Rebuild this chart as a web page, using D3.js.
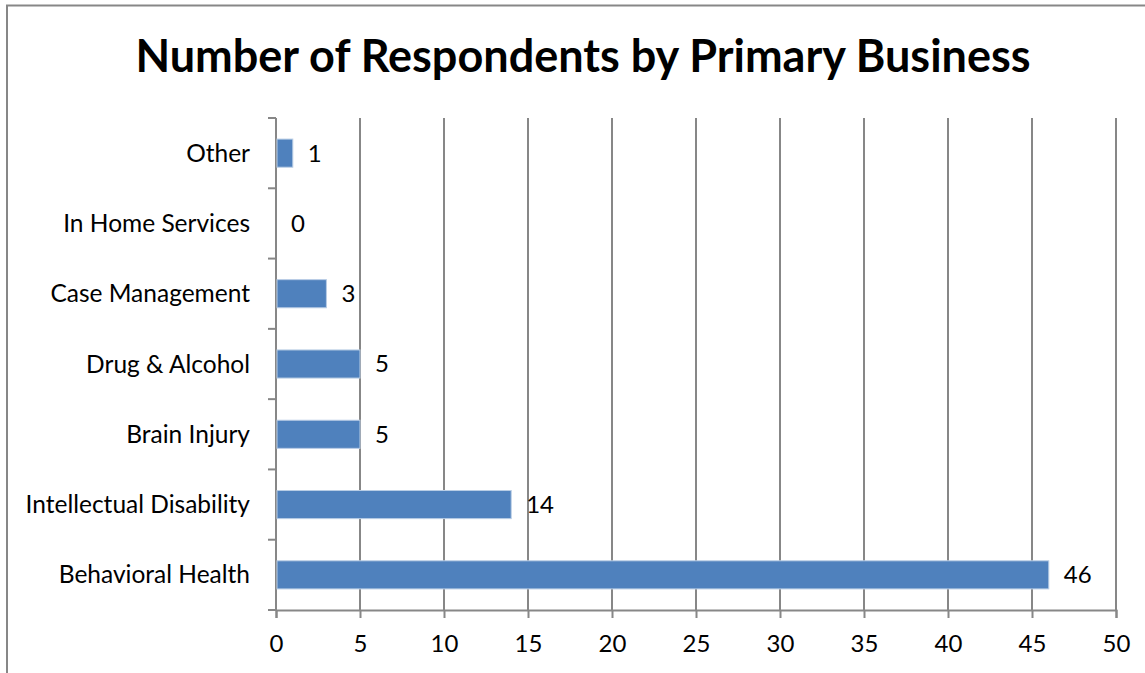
<!DOCTYPE html>
<html>
<head>
<meta charset="utf-8">
<script src="https://cdn.jsdelivr.net/npm/d3@7"></script>
<style>
  body { margin: 0; background: #fff; }
  svg { display: block; font-family: Lato, "Open Sans", sans-serif; }
</style>
</head>
<body>
<svg id="bar-chart"></svg>
<script>
// Data
const categories = ["Other", "In Home Services", "Case Management", "Drug & Alcohol", "Brain Injury", "Intellectual Disability", "Behavioral Health"];
const respondents = [1, 0, 3, 5, 5, 14, 46];
const xTicks = [0, 5, 10, 15, 20, 25, 30, 35, 40, 45, 50];

document.addEventListener('DOMContentLoaded', function () {
    const W = 1145, H = 673;
    const margin = { top: 118, right: 29, bottom: 63, left: 276 };
    const width = W - margin.left - margin.right;
    const height = H - margin.top - margin.bottom;

    const root = d3.select('#bar-chart')
        .attr("width", W)
        .attr("height", H);

    // outer chart border
    root.append("rect")
        .attr("x", 7).attr("y", 5.5)
        .attr("width", 1150).attr("height", 700)
        .attr("fill", "none")
        .attr("stroke", "#878787")
        .attr("stroke-width", 2);

    // title
    root.append("text")
        .attr("x", 583)
        .attr("y", 72)
        .attr("text-anchor", "middle")
        .attr("font-size", 45)
        .attr("font-weight", "bold")
        .attr("fill", "#000")
        .text("Number of Respondents by Primary Business");

    const svg = root.append("g")
        .attr("transform", `translate(${margin.left},${margin.top})`);

    const x = d3.scaleLinear().domain([0, 50]).range([0, width]);
    const y = d3.scaleBand().domain(categories).range([0, height]).paddingInner(0.6).paddingOuter(0.3);
    const yEdges = d3.scaleLinear().domain([0, categories.length]).range([0, height]);

    // vertical gridlines
    svg.selectAll(".grid")
        .data(xTicks.slice(1))
        .join("line")
        .attr("x1", d => x(d)).attr("x2", d => x(d))
        .attr("y1", 0).attr("y2", height)
        .attr("stroke", "#878787")
        .attr("stroke-width", 2);

    // X axis
    const xAxisGroup = svg.append("g")
        .attr("transform", `translate(0,${height})`)
        .call(d3.axisBottom(x).tickValues(xTicks).tickSize(8).tickPadding(17));
    xAxisGroup.select(".domain").attr("stroke", "#878787").attr("stroke-width", 2);
    xAxisGroup.selectAll("line").attr("stroke", "#878787").attr("stroke-width", 2);
    xAxisGroup.selectAll("text")
        .attr("fill", "#000")
        .attr("font-size", 24)
        .attr("font-family", "Lato, sans-serif");

    // Y axis (ticks at category boundaries)
    const yAxisGroup = svg.append("g");
    yAxisGroup.append("line")
        .attr("x1", 0).attr("x2", 0).attr("y1", 0).attr("y2", height)
        .attr("stroke", "#878787").attr("stroke-width", 2);
    yAxisGroup.selectAll(".ytick")
        .data(d3.range(categories.length + 1))
        .join("line")
        .attr("x1", -8).attr("x2", 0)
        .attr("y1", d => yEdges(d)).attr("y2", d => yEdges(d))
        .attr("stroke", "#878787").attr("stroke-width", 2);
    yAxisGroup.selectAll(".ylabel")
        .data(categories)
        .join("text")
        .attr("x", -26)
        .attr("y", d => y(d) + y.bandwidth() / 2)
        .attr("dy", "0.35em")
        .attr("text-anchor", "end")
        .attr("font-size", 24.5)
        .attr("fill", "#000")
        .text(d => d);

    // Bars
    svg.selectAll(".bar")
        .data(categories)
        .join("rect")
        .attr("x", 1)
        .attr("y", d => y(d))
        .attr("width", (d, i) => Math.max(0, x(respondents[i]) - 1))
        .attr("height", y.bandwidth())
        .attr("fill", "#4F81BD")
        .attr("stroke", "#B9CDE5")
        .attr("stroke-width", (d, i) => respondents[i] > 0 ? 1 : 0);

    // value labels
    svg.selectAll(".val")
        .data(categories)
        .join("text")
        .attr("x", (d, i) => x(respondents[i]) + 15)
        .attr("y", d => y(d) + y.bandwidth() / 2)
        .attr("dy", "0.35em")
        .attr("font-size", 24)
        .attr("fill", "#000")
        .text((d, i) => respondents[i]);
});
</script>
</body>
</html>
